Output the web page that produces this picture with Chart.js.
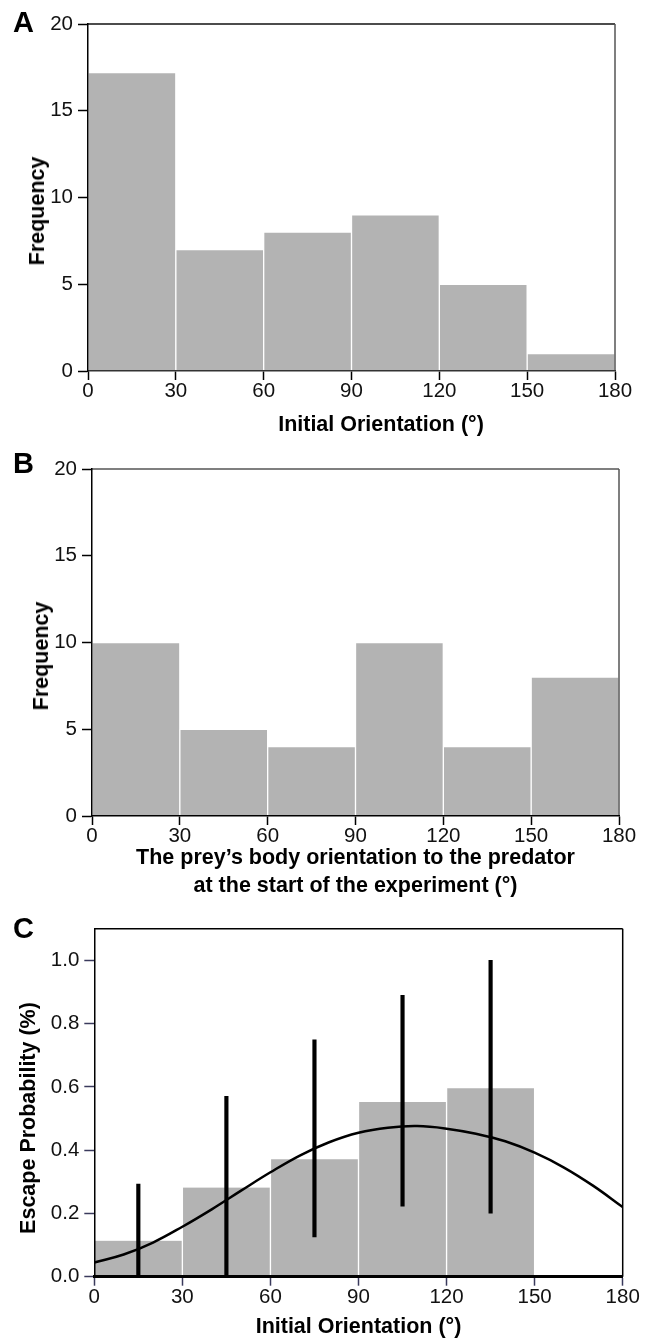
<!DOCTYPE html>
<html><head><meta charset="utf-8">
<script src="https://cdn.jsdelivr.net/npm/chart.js@4.4.0/dist/chart.umd.min.js"></script>
<style>
html,body{margin:0;padding:0;background:#fff;}
body{width:647px;height:1338px;position:relative;overflow:hidden;font-family:"Liberation Sans",Arial,sans-serif;}
.panel{position:absolute;left:0;width:647px;}
.panel canvas{display:block;}
.letter{position:absolute;left:13px;font-weight:bold;font-size:29px;line-height:29px;color:#000;}
.xt{position:absolute;font-weight:bold;font-size:21.5px;line-height:26px;white-space:nowrap;transform:translate(-50%,-50%);color:#000;}
.yt{position:absolute;font-weight:bold;font-size:21.5px;line-height:26px;white-space:nowrap;transform:translate(-50%,-50%) rotate(-90deg);color:#000;}
</style></head><body>
<div class="panel" style="top:0;height:445px"><canvas id="cA" width="647" height="445"></canvas></div>
<div class="panel" style="top:445px;height:460px"><canvas id="cB" width="647" height="460"></canvas></div>
<div class="panel" style="top:900px;height:438px"><canvas id="cC" width="647" height="438"></canvas></div>
<div class="letter" style="top:8px">A</div>
<div class="letter" style="top:449px">B</div>
<div class="letter" style="top:914px">C</div>
<div class="xt" style="left:381px;top:424px">Initial Orientation (°)</div>
<div class="yt" style="left:37px;top:211px">Frequency</div>
<div class="yt" style="left:41px;top:656px">Frequency</div>
<div class="yt" style="left:28px;top:1118px">Escape Probability (%)</div>
<script>
// ---- data ----
const binCenters = [15, 45, 75, 105, 135, 165];
const freqA = [17.2, 7, 8, 9, 5, 1];
const freqB = [10, 5, 4, 10, 4, 8];
const binCentersC = [15, 45, 75, 105, 135];
const probC = [0.114, 0.282, 0.371, 0.552, 0.596];
const errLowC = [0, 0, 0.126, 0.223, 0.201];
const errHighC = [0.293, 0.570, 0.749, 0.889, 1.0];
const curveX = [0, 10, 20, 30, 40, 50, 60, 70, 80, 90, 100, 110, 120, 130, 140, 150, 160, 170, 180];
const curveY = [0.045, 0.07, 0.108, 0.158, 0.213, 0.272, 0.33, 0.383, 0.425, 0.455, 0.471, 0.476, 0.468, 0.452, 0.428, 0.392, 0.345, 0.287, 0.22];
const xTickStep = 30;
const xMin = 0, xMax = 180;
const freqTickStep = 5, freqMax = 20;
const probTickStep = 0.2, probMax = 1.1;
const titleB_x = ['The prey\u2019s body orientation to the predator', 'at the start of the experiment (\u00b0)'];
const titleC_x = 'Initial Orientation (\u00b0)';

const FONT = '"Liberation Sans", Arial, sans-serif';
const TICKFONT = '"Liberation Sans", Arial, sans-serif';
const BAR = '#b3b3b3';

const boxPlugin = {
  id: 'box',
  afterDatasetsDraw(chart, args, o) {
    const {ctx, chartArea: {left, top, right, bottom}} = chart;
    ctx.save();
    ctx.lineWidth = o.width || 1.5;
    ctx.strokeStyle = o.top || '#000';
    ctx.beginPath(); ctx.moveTo(left, top); ctx.lineTo(right, top); ctx.stroke();
    ctx.strokeStyle = o.right || '#000';
    ctx.beginPath(); ctx.moveTo(right, top); ctx.lineTo(right, bottom); ctx.stroke();
    ctx.restore();
  }
};

function xScale(height, tickColor, borderColor, borderWidth, title) {
  const s = {
    type: 'linear', min: xMin, max: xMax, offset: false,
    grid: {display: true, drawOnChartArea: false, offset: false, tickLength: 9, color: tickColor, tickWidth: 1.5},
    border: {display: true, color: borderColor, width: borderWidth, z: 1},
    ticks: {stepSize: xTickStep, padding: 1, color: '#111', font: {family: TICKFONT, size: 20.5, lineHeight: 1}, maxRotation: 0, autoSkip: false},
    afterFit: (a) => { a.height = height; }
  };
  if (title) s.title = title;
  return s;
}
function yScale(width, max, step, tickColor, fmt) {
  return {
    type: 'linear', min: 0, max: max,
    grid: {display: true, drawOnChartArea: false, tickLength: 10, color: tickColor, tickWidth: 1.5},
    border: {display: true, color: '#000', width: 1.5, z: 1},
    ticks: {stepSize: step, includeBounds: false, padding: 5, color: '#111', font: {family: TICKFONT, size: 20.5, lineHeight: 1}, callback: fmt},
    afterFit: (a) => { a.width = width; }
  };
}

function histogram(id, values, opts) {
  return new Chart(document.getElementById(id), {
    type: 'bar',
    data: {
      datasets: [{
        data: binCenters.map((x, i) => ({x: x, y: values[i]})),
        backgroundColor: BAR, borderColor: '#fff',
        borderWidth: {top: 1, left: 1, right: 1, bottom: 0}, borderSkipped: 'bottom',
        barPercentage: 1, categoryPercentage: 1, grouped: false
      }]
    },
    options: {
      responsive: false, animation: false,
      layout: {padding: opts.padding},
      plugins: {legend: {display: false}, tooltip: {enabled: false}, box: {width: 1.5, top: opts.topColor, right: opts.rightColor}},
      scales: {
        x: xScale(opts.xHeight, '#000', opts.bottomColor, 1.5, opts.xTitle),
        y: yScale(opts.yWidth, freqMax, freqTickStep, '#000')
      }
    },
    plugins: [boxPlugin]
  });
}

histogram('cA', freqA, {
  padding: {top: 24, right: 32, left: 0, bottom: 0},
  xHeight: 74, yWidth: 88,
  topColor: '#111', rightColor: '#555', bottomColor: '#333'
});

histogram('cB', freqB, {
  padding: {top: 24, right: 28, left: 0, bottom: 0},
  xHeight: 89, yWidth: 92,
  topColor: '#555', rightColor: '#555', bottomColor: '#000',
  xTitle: {display: true, text: titleB_x, color: '#000', font: {family: FONT, size: 21.5, weight: 'bold', lineHeight: 1.3}, padding: {top: 0, bottom: 5}}
});

new Chart(document.getElementById('cC'), {
  type: 'bar',
  data: {
    datasets: [
      {
        type: 'line', order: 0,
        data: curveX.map((x, i) => ({x: x, y: curveY[i]})),
        borderColor: '#000', borderWidth: 2.5, pointRadius: 0,
        tension: 0.4, fill: false
      },
      {
        order: 1,
        data: binCentersC.map((x, i) => ({x: x, y: [errLowC[i], errHighC[i]]})),
        backgroundColor: '#000', borderWidth: 0, barThickness: 3.5, grouped: false
      },
      {
        order: 2,
        data: binCentersC.map((x, i) => ({x: x, y: probC[i]})),
        backgroundColor: BAR, borderColor: '#fff',
        borderWidth: {top: 0, left: 1, right: 1, bottom: 0}, borderSkipped: 'bottom',
        barPercentage: 1, categoryPercentage: 1, grouped: false
      }
    ]
  },
  options: {
    responsive: false, animation: false,
    layout: {padding: {top: 28.7, right: 24.3, left: 0, bottom: 0}},
    plugins: {legend: {display: false}, tooltip: {enabled: false}, box: {width: 1.5, top: '#000', right: '#000'}},
    scales: {
      x: xScale(61.3, '#3a3a5c', '#000', 3,
        {display: true, text: titleC_x, color: '#000', font: {family: FONT, size: 21.5, weight: 'bold', lineHeight: 1.0}, padding: {top: 0, bottom: 0}}),
      y: yScale(94.3, probMax, probTickStep, '#3a3a5c', (v) => v.toFixed(1))
    }
  },
  plugins: [boxPlugin]
});
</script>
</body></html>
